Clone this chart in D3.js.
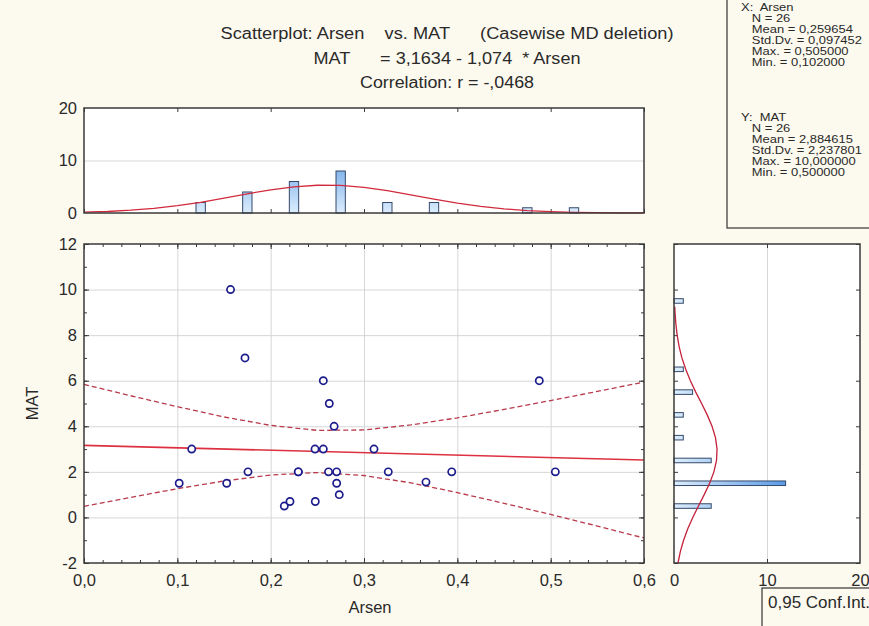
<!DOCTYPE html>
<html><head><meta charset="utf-8">
<script src="https://cdn.jsdelivr.net/npm/d3@7"></script>
<style>
body{margin:0;background:#fcf9ee;}
svg{display:block;font-family:"Liberation Sans",Arial,sans-serif;}
text{white-space:pre;}
</style></head><body>
<svg id="c" width="869" height="626"></svg>
<script>
// ---------- data ----------
const arsen = [0.157,0.1725,0.2564,0.2628,0.268,0.4878,0.1154,0.2475,0.2564,0.3107,0.1757,0.2296,0.2296,0.262,0.2707,0.326,0.394,0.505,0.102,0.1529,0.2707,0.3664,0.2735,0.2146,0.2207,0.2478];
const mat   = [10,7,6,5,4,6,3,3,3,3,2,2,2,2,2,2,2,2,1.5,1.5,1.5,1.55,1.0,0.5,0.7,0.7];
const histXCenters = [0.125,0.175,0.225,0.275,0.325,0.375,0.475,0.525];
const histXCounts  = [2,4,6,8,2,2,1,1];
const histYCenters = [0.5,1.5,2.5,3.5,4.5,5.5,6.5,9.5];
const histYCounts  = [4,12,4,1,1,2,1,1];
const normXAt  = [0,0.025,0.05,0.075,0.1,0.125,0.15,0.175,0.2,0.225,0.25,0.275,0.3,0.325,0.35,0.375,0.4,0.425,0.45,0.475,0.5,0.525,0.55,0.575,0.6];
const normXVal = [0.15,0.29,0.53,0.88,1.39,2.04,2.82,3.65,4.41,4.99,5.29,5.25,4.88,4.25,3.46,2.64,1.89,1.26,0.79,0.46,0.25,0.13,0.06,0.03,0.01];
const normYAt  = [-2,-1.5,-1,-0.5,0,0.5,1,1.5,2,2.5,3,3.5,4,4.5,5,5.5,6,6.5,7,7.5,8,8.5,9,9.25];
const normYVal = [0.43,0.68,1.03,1.48,2.02,2.63,3.25,3.83,4.29,4.57,4.63,4.46,4.09,3.57,2.97,2.34,1.76,1.26,0.85,0.55,0.34,0.20,0.11,0.08];
const bandAt    = [0,0.05,0.1,0.15,0.2,0.25,0.3,0.35,0.4,0.45,0.5,0.55,0.6];
const bandUpper = [5.84,5.34,4.86,4.41,4.04,3.82,3.84,4.06,4.37,4.74,5.13,5.53,5.94];
const bandLower = [0.49,0.88,1.26,1.60,1.86,1.97,1.84,1.52,1.09,0.62,0.13,-0.38,-0.90];
const regAt  = [0,0.6];
const regVal = [3.1634,2.5190];
const xTicks = [0,0.1,0.2,0.3,0.4,0.5,0.6];
const yTicks = [-2,0,2,4,6,8,10,12];
const topTicks = [0,10,20];
const rightTicks = [0,10,20];
const titleLines = ["Scatterplot: Arsen    vs. MAT      (Casewise MD deletion)","MAT      = 3,1634 - 1,074  * Arsen","Correlation: r = -,0468"];
const statsX = ["X:  Arsen","N = 26","Mean = 0,259654","Std.Dv. = 0,097452","Max. = 0,505000","Min. = 0,102000"];
const statsY = ["Y:  MAT","N = 26","Mean = 2,884615","Std.Dv. = 2,237801","Max. = 10,000000","Min. = 0,500000"];
const xTitle = "Arsen", yTitle = "MAT", legendText = "0,95 Conf.Int.";

// ---------- layout ----------
const M = {l:84, r:644, t:244, b:563};
const TH = {t:108, b:213};
const RH = {l:674, r:860};
const x = d3.scaleLinear([0,0.6],[M.l,M.r]);
const y = d3.scaleLinear([-2,12],[M.b,M.t]);
const yTop = d3.scaleLinear([0,20],[TH.b,TH.t]);
const xR = d3.scaleLinear([0,20],[RH.l,RH.r]);
const fmtC = d => d3.format(".1f")(d).replace(".",",");
const svg = d3.select("#c");
const frameCol="#3a3a3a", gridCol="#d6d6d6", txtCol="#2a2a2a";
const FS = 16.5;

// gradients
const defs = svg.append("defs");
function grad(id,x1,y1,x2,y2){
  const g=defs.append("linearGradient").attr("id",id).attr("gradientUnits","userSpaceOnUse")
    .attr("x1",x1).attr("y1",y1).attr("x2",x2).attr("y2",y2);
  g.append("stop").attr("offset","0").attr("stop-color","#dcedfc");
  g.append("stop").attr("offset","1").attr("stop-color","#5a9ae6");
}
grad("gTop",0,yTop(0),0,yTop(12));
grad("gRight",xR(0),0,xR(12),0);

// plot backgrounds
svg.append("rect").attr("x",M.l).attr("y",TH.t).attr("width",M.r-M.l).attr("height",TH.b-TH.t).attr("fill","#fff");
svg.append("rect").attr("x",M.l).attr("y",M.t).attr("width",M.r-M.l).attr("height",M.b-M.t).attr("fill","#fff");
svg.append("rect").attr("x",RH.l).attr("y",M.t).attr("width",RH.r-RH.l).attr("height",M.b-M.t).attr("fill","#fff");

function styleAxis(g,col,w){g.select(".domain").remove();g.selectAll("line").attr("stroke",col).attr("stroke-width",w||1);}

// ---------- gridlines ----------
svg.append("g").attr("transform",`translate(0,${M.b})`)
  .call(d3.axisBottom(x).tickValues(xTicks.slice(1,-1)).tickSize(-(M.b-M.t)).tickFormat(""))
  .call(g=>styleAxis(g,gridCol));
svg.append("g").attr("transform",`translate(${M.l},0)`)
  .call(d3.axisLeft(y).tickValues(yTicks.slice(1,-1)).tickSize(-(M.r-M.l)).tickFormat(""))
  .call(g=>styleAxis(g,gridCol));
svg.append("g").attr("transform",`translate(${M.l},0)`)
  .call(d3.axisLeft(yTop).tickValues([10]).tickSize(-(M.r-M.l)).tickFormat(""))
  .call(g=>styleAxis(g,gridCol));
svg.append("g").attr("transform",`translate(0,${M.b})`)
  .call(d3.axisBottom(xR).tickValues([10]).tickSize(-(M.b-M.t)).tickFormat(""))
  .call(g=>styleAxis(g,gridCol));

// ---------- inward ticks ----------
function ticks(axisFn,scale,vals,len,tr){
  svg.append("g").attr("transform",tr).call(axisFn(scale).tickValues(vals).tickSize(len).tickFormat(""))
    .call(g=>styleAxis(g,frameCol,1));
}
const xMinor = x.ticks(24), yMinor = y.ticks(14);
ticks(d3.axisBottom,x,xMinor,-3,`translate(0,${M.b})`);
ticks(d3.axisBottom,x,xTicks,-5,`translate(0,${M.b})`);
ticks(d3.axisTop,x,xMinor,-3,`translate(0,${M.t})`);
ticks(d3.axisTop,x,xTicks,-5,`translate(0,${M.t})`);
ticks(d3.axisLeft,y,yMinor,-3,`translate(${M.l},0)`);
ticks(d3.axisLeft,y,yTicks,-5,`translate(${M.l},0)`);
ticks(d3.axisRight,y,yMinor,-3,`translate(${M.r},0)`);
ticks(d3.axisRight,y,yTicks,-5,`translate(${M.r},0)`);
ticks(d3.axisBottom,x,xTicks,-4,`translate(0,${TH.b})`);
ticks(d3.axisTop,x,xTicks,-4,`translate(0,${TH.t})`);
ticks(d3.axisLeft,y,yTicks,-4,`translate(${RH.l},0)`);
ticks(d3.axisRight,y,yTicks,-4,`translate(${RH.r},0)`);
ticks(d3.axisTop,xR,[10],-4,`translate(0,${M.t})`);
ticks(d3.axisBottom,xR,[10],-4,`translate(0,${M.b})`);

// ---------- histograms ----------
const bwTop = (x(0.05)-x(0))*0.2;
svg.append("g").selectAll("rect").data(histXCenters).join("rect")
  .attr("x",(d)=>x(d)-bwTop/2).attr("width",bwTop)
  .attr("y",(d,i)=>yTop(histXCounts[i])).attr("height",(d,i)=>yTop(0)-yTop(histXCounts[i]))
  .attr("fill","url(#gTop)").attr("stroke","#34496a").attr("stroke-width",1);
const bhR = (y(0)-y(1))*0.2;
svg.append("g").selectAll("rect").data(histYCenters).join("rect")
  .attr("y",(d)=>y(d)-bhR/2).attr("height",bhR)
  .attr("x",xR(0)).attr("width",(d,i)=>xR(histYCounts[i])-xR(0))
  .attr("fill","url(#gRight)").attr("stroke","#34496a").attr("stroke-width",1);

// normal fits
svg.append("path").datum(normXAt).attr("fill","none").attr("stroke","#d22a3c").attr("stroke-width",1.3)
  .attr("d",d3.line().x(d=>x(d)).y((d,i)=>yTop(normXVal[i])));
svg.append("path").datum(normYAt).attr("fill","none").attr("stroke","#c4213a").attr("stroke-width",1.3)
  .attr("d",d3.line().y(d=>y(d)).x((d,i)=>xR(normYVal[i])));

// ---------- regression & bands ----------
svg.append("path").datum(bandAt).attr("fill","none").attr("stroke","#b83a4c").attr("stroke-width",1.3).attr("stroke-dasharray","5,3")
  .attr("d",d3.line().x(d=>x(d)).y((d,i)=>y(bandUpper[i])));
svg.append("path").datum(bandAt).attr("fill","none").attr("stroke","#b83a4c").attr("stroke-width",1.3).attr("stroke-dasharray","5,3")
  .attr("d",d3.line().x(d=>x(d)).y((d,i)=>y(bandLower[i])));
svg.append("path").datum(regAt).attr("fill","none").attr("stroke","#dd3040").attr("stroke-width",1.6)
  .attr("d",d3.line().x(d=>x(d)).y((d,i)=>y(regVal[i])));

// points
svg.append("g").selectAll("circle").data(arsen).join("circle")
  .attr("cx",d=>x(d)).attr("cy",(d,i)=>y(mat[i])).attr("r",3.6)
  .attr("fill","#fff").attr("stroke","#1c1c8c").attr("stroke-width",1.7);

// ---------- frames ----------
function frame(x0,y0,x1,y1){svg.append("rect").attr("x",x0).attr("y",y0).attr("width",x1-x0).attr("height",y1-y0)
  .attr("fill","none").attr("stroke",frameCol).attr("stroke-width",1.5);}
frame(M.l,TH.t,M.r,TH.b);
frame(M.l,M.t,M.r,M.b);
frame(RH.l,M.t,RH.r,M.b);

// ---------- labels ----------
function labels(g){g.select(".domain").remove();g.selectAll("line").remove();
  g.selectAll("text").attr("font-size",FS).attr("fill",txtCol).attr("font-family","'Liberation Sans',Arial,sans-serif");}
svg.append("g").attr("transform",`translate(0,${M.b})`)
  .call(d3.axisBottom(x).tickValues(xTicks).tickSize(0).tickPadding(11).tickFormat(fmtC)).call(labels);
svg.append("g").attr("transform",`translate(${M.l},0)`)
  .call(d3.axisLeft(y).tickValues(yTicks).tickSize(0).tickPadding(7).tickFormat(d=>String(d))).call(labels);
svg.append("g").attr("transform",`translate(${M.l},0)`)
  .call(d3.axisLeft(yTop).tickValues(topTicks).tickSize(0).tickPadding(7).tickFormat(d=>String(d))).call(labels);
svg.append("g").attr("transform",`translate(0,${M.b})`)
  .call(d3.axisBottom(xR).tickValues(rightTicks).tickSize(0).tickPadding(11).tickFormat(d=>String(d))).call(labels);

svg.append("text").attr("x",370).attr("y",613).attr("text-anchor","middle").attr("font-size",FS).attr("fill",txtCol).text(xTitle);
svg.append("text").attr("transform",`translate(38,${(M.t+M.b)/2}) rotate(-90)`).attr("text-anchor","middle").attr("font-size",FS).attr("fill",txtCol).text(yTitle);

// title (width fitted to reference)
const titleW = [453,267,174];
svg.append("g").selectAll("text").data(titleLines).join("text")
  .attr("x",447).attr("y",(d,i)=>39+i*24.5).attr("text-anchor","middle").attr("font-size",16).attr("fill",txtCol)
  .attr("textLength",(d,i)=>titleW[i]).attr("lengthAdjust","spacingAndGlyphs").text(d=>d);

// stats box
svg.append("rect").attr("x",727).attr("y",-5).attr("width",160).attr("height",233).attr("fill","none").attr("stroke","#333").attr("stroke-width",1.2);
function statBlock(lines,y0){
  const g = svg.append("g").attr("transform",`translate(741,0) scale(1.2,1)`);
  g.selectAll("text").data(lines).join("text")
    .attr("x",(d,i)=>i===0?0:9).attr("y",(d,i)=>y0+i*11).attr("font-size",10.8).attr("fill",txtCol)
    .text(d=>d);
}
statBlock(statsX,11);
statBlock(statsY,121);

// legend box
svg.append("rect").attr("x",762).attr("y",588).attr("width",130).attr("height",60).attr("fill","#fcf9ee").attr("stroke","#333").attr("stroke-width",1.2);
svg.append("text").attr("x",768).attr("y",608).attr("font-size",17).attr("fill",txtCol).text(legendText);
</script>
</body></html>
